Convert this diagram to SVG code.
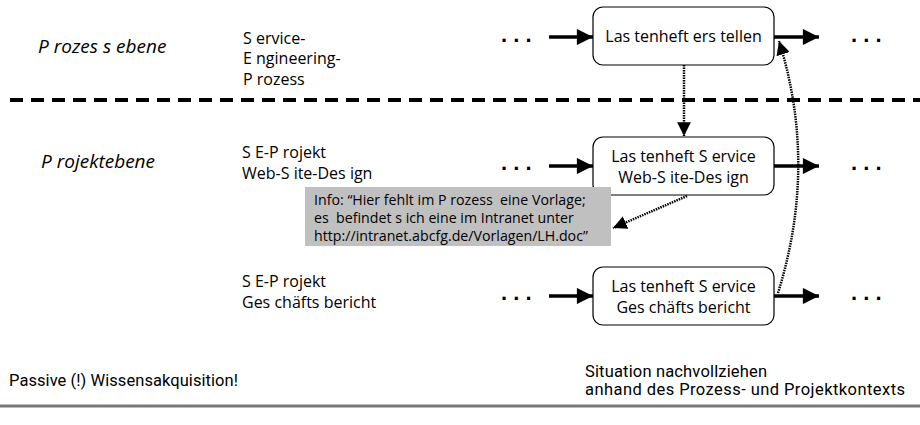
<svg xmlns="http://www.w3.org/2000/svg" width="920" height="425" viewBox="0 0 920 425">
  <style>
    .lbl { font-family: "Open Sans", "Liberation Sans", sans-serif; font-size: 16px; fill: #000; }
    .lvl { font-family: "Open Sans", "Liberation Sans", sans-serif; font-size: 19px; font-style: italic; fill: #000; }
    .info { font-family: "Open Sans", "Liberation Sans", sans-serif; font-size: 14.2px; fill: #000; white-space: pre; }
    .note { font-family: Roboto, "Liberation Sans", sans-serif; font-size: 16.5px; fill: #000; }
    .dots { font-family: "Liberation Sans", sans-serif; font-size: 22px; font-weight: bold; fill: #000; }
    .box { fill: #fff; stroke: #000; stroke-width: 1.2; }
    .flow { stroke: #000; stroke-width: 3.5; fill: none; marker-end: url(#solid); }
    .ref { stroke: #000; stroke-width: 2.5; stroke-dasharray: 1.5 1; fill: none; marker-end: url(#thin); }
  </style>
  <defs>
    <marker id="solid" viewBox="0 0 10 10" refX="10" refY="5" markerWidth="5" markerHeight="4.6" markerUnits="strokeWidth" orient="auto">
      <path d="M0,0 L10,5 L0,10 Z" fill="#000"/>
    </marker>
    <marker id="thin" viewBox="0 0 10 10" refX="10" refY="5" markerWidth="5.5" markerHeight="5.5" markerUnits="strokeWidth" orient="auto">
      <path d="M0,0 L10,5 L0,10 Z" fill="#000"/>
    </marker>
  </defs>

  <!-- level labels -->
  <text class="lvl" x="38" y="53">P rozes s ebene</text>
  <text class="lvl" x="41" y="168">P rojektebene</text>

  <!-- process / project names -->
  <text class="lbl" x="243" y="44">S ervice-</text>
  <text class="lbl" x="243" y="64">E ngineering-</text>
  <text class="lbl" x="243" y="85">P rozess</text>
  <text class="lbl" x="242" y="158">S E-P rojekt</text>
  <text class="lbl" x="242" y="179">Web-S ite-Des ign</text>
  <text class="lbl" x="242" y="287">S E-P rojekt</text>
  <text class="lbl" x="242" y="308">Ges chäfts bericht</text>

  <!-- boundary between process and project level -->
  <line x1="10" y1="100" x2="920" y2="100" stroke="#000" stroke-width="4" stroke-dasharray="13 8"/>

  <!-- ellipses before and after each activity -->
  <text class="dots" x="501" y="42">. . .</text>
  <text class="dots" x="851" y="42">. . .</text>
  <text class="dots" x="501" y="170">. . .</text>
  <text class="dots" x="851" y="170">. . .</text>
  <text class="dots" x="501" y="300">. . .</text>
  <text class="dots" x="851" y="300">. . .</text>

  <g id="connectors">
    <line class="flow" x1="549" y1="37" x2="593" y2="37"/>
    <line class="flow" x1="774" y1="37" x2="819" y2="37"/>
    <line class="flow" x1="549" y1="166" x2="593" y2="166"/>
    <line class="flow" x1="774" y1="166" x2="819" y2="166"/>
    <line class="flow" x1="549" y1="296" x2="593" y2="296"/>
    <line class="flow" x1="774" y1="296" x2="819" y2="296"/>
    <line class="ref" x1="684" y1="65" x2="684" y2="136"/>
    <line class="ref" x1="687" y1="196" x2="613" y2="228"/>
    <path class="ref" d="M778,293 Q818,165 779,41"/>
  </g>

  <g id="node-lastenheft-erstellen">
    <rect class="box" x="593" y="7" width="181" height="58" rx="10"/>
    <text class="lbl" x="683.5" y="42" text-anchor="middle">Las tenheft ers tellen</text>
  </g>
  <g id="node-lastenheft-websitedesign">
    <rect class="box" x="593" y="137" width="181" height="58" rx="10"/>
    <text class="lbl" x="683.5" y="162" text-anchor="middle">Las tenheft S ervice</text>
    <text class="lbl" x="683.5" y="183" text-anchor="middle">Web-S ite-Des ign</text>
  </g>
  <g id="node-lastenheft-geschaeftsbericht">
    <rect class="box" x="593" y="267" width="181" height="58" rx="10"/>
    <text class="lbl" x="683.5" y="292" text-anchor="middle">Las tenheft S ervice</text>
    <text class="lbl" x="683.5" y="313" text-anchor="middle">Ges chäfts bericht</text>
  </g>

  <g id="info-note">
    <rect x="305" y="187" width="306" height="59" fill="#c0c0c0"/>
    <text class="info" x="314" y="205">Info: “Hier fehlt im P rozess  eine Vorlage;</text>
    <text class="info" x="314" y="223">es  befindet s ich eine im Intranet unter</text>
    <text class="info" x="314" y="241">http://intranet.abcfg.de/Vorlagen/LH.doc”</text>
  </g>

  <!-- footer -->
  <text class="note" x="9" y="386" textLength="229">Passive (!) Wissensakquisition!</text>
  <text class="note" x="585" y="377" textLength="182">Situation nachvollziehen</text>
  <text class="note" x="585" y="395" textLength="320">anhand des Prozess- und Projektkontexts</text>
  <line x1="0" y1="406" x2="920" y2="406" stroke="#777" stroke-width="3"/>
</svg>
